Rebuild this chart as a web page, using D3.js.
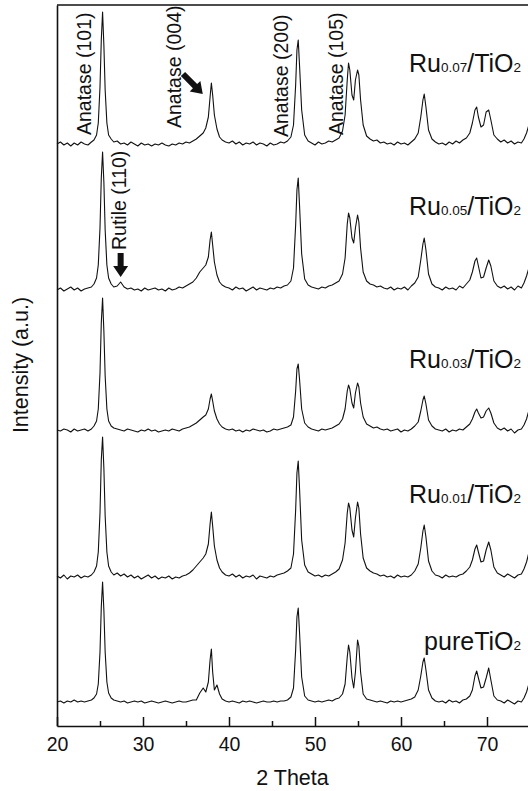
<!DOCTYPE html>
<html lang="en">
<head>
    <meta charset="UTF-8">
    <title>XRD patterns Ru/TiO2</title>
    <script src="https://d3js.org/d3.v7.min.js"></script>
    <style>
        body { margin: 0; background: #fff; }
        svg { display: block; font-family: "Liberation Sans", Arial, sans-serif; }
        .pattern { fill: none; stroke: #111; stroke-width: 1.1; stroke-linejoin: round; }
        .frame { stroke: #111; stroke-width: 1.6; }
    </style>
</head>
<body>
    <script>
        // 2 theta sample positions (denser around the reflections)
        var twoTheta = [
            20, 20.4, 20.8, 21.2, 21.6, 22.0, 22.4, 22.8, 23.2, 23.6,
            24.0, 24.3, 24.6, 24.8, 25.0, 25.15, 25.3, 25.45, 25.6, 25.8, 26.0, 26.3, 26.6,
            27.0, 27.4, 27.8, 28.2, 28.6, 29.0, 29.4, 29.8, 30.2, 30.6, 31.0, 31.4, 31.8, 32.2, 32.6, 33.0, 33.4, 33.8, 34.2, 34.6, 35.0, 35.4, 35.8,
            36.2, 36.6, 37.0, 37.3, 37.6, 37.8, 37.95, 38.1, 38.3, 38.6, 38.9, 39.2, 39.6,
            40.0, 40.4, 40.8, 41.2, 41.6, 42.0, 42.4, 42.8, 43.2, 43.6, 44.0, 44.4, 44.8, 45.2, 45.6, 46.0, 46.4, 46.8,
            47.2, 47.5, 47.75, 47.9, 48.05, 48.2, 48.45, 48.8, 49.2,
            49.6, 50.0, 50.4, 50.8, 51.2, 51.6, 52.0, 52.4, 52.8,
            53.2, 53.5, 53.75, 53.9, 54.05, 54.3, 54.5, 54.7, 54.95, 55.1, 55.3, 55.6, 56.0,
            56.4, 56.8, 57.2, 57.6, 58.0, 58.4, 58.8, 59.2, 59.6, 60.0, 60.4, 60.8, 61.2, 61.6,
            62.0, 62.3, 62.55, 62.7, 62.9, 63.2, 63.6,
            64.0, 64.4, 64.8, 65.2, 65.6, 66.0, 66.4, 66.8, 67.2, 67.6,
            68.0, 68.3, 68.6, 68.8, 69.0, 69.3, 69.6, 69.9, 70.2, 70.45, 70.8, 71.2,
            71.6, 72.0, 72.4, 72.8, 73.2, 73.6, 74.0, 74.3, 74.6, 75.0
        ];

        // intensities (a.u.) above each pattern's own baseline
        var ru007 = [
            1, 3, 0, 2, -1, 2, 0, 3, 1, 0,
            3, 5, 10, 22, 58, 105, 133, 100, 55, 22, 10, 6, 3,
            4, 1, 2, 0, 3, 1, -1, 2, 0, 1, -1, 1, 0, 2, 0, -1, 1, 0, 2, 1, 3, 2, 4,
            6, 9, 12, 17, 28, 48, 62, 50, 30, 16, 8, 5, 3,
            2, 4, 1, 3, 0, 2, 1, 3, 0, 2, 1, -1, 2, 0, 1, 3, 2, 4,
            8, 20, 60, 95, 105, 80, 35, 10, 4,
            2, 0, 3, 1, 2, 4, 3, 5, 7,
            14, 30, 65, 82, 75, 50, 45, 65, 75, 70, 45, 20, 9,
            6, 4, 5, 2, 3, 1, 2, 0, 3, 1, 2, 0, 3, 6,
            12, 28, 45, 51, 38, 15, 6,
            3, 1, 2, 0, 3, 1, 4, 2, 5, 7,
            12, 22, 35, 38, 28, 18, 20, 33, 35, 25, 10, 6,
            3, 5, 2, 4, 1, 3, 2, 6, 12, 24
        ];
        var ru005 = [
            0, 2, -1, 1, 3, 0, 2, -1, 1, 2,
            3, 6, 12, 25, 62, 112, 138, 108, 60, 25, 12, 6, 3,
            4, 8, 3, 1, 2, 0, 1, -1, 2, 0, 1, 2, 0, 1, -1, 2, 0, 1, 3, 2, 4, 6, 8,
            12, 18, 22, 25, 33, 50, 58, 45, 28, 15, 8, 5, 3,
            2, 0, 3, 1, 2, -1, 1, 3, 0, 2, 1, 0, 2, 1, 3, 2, 4, 5,
            9, 22, 65, 100, 112, 85, 36, 11, 5,
            3, 2, 1, 3, 2, 4, 5, 7, 9,
            16, 32, 66, 77, 72, 52, 47, 62, 75, 68, 42, 18, 9,
            6, 5, 3, 4, 2, 1, 3, 0, 2, 1, 3, 0, 4, 7,
            13, 30, 46, 52, 40, 16, 6,
            3, 2, 0, 3, 1, 2, 0, 4, 2, 6,
            10, 18, 29, 32, 24, 12, 13, 22, 30, 24, 9, 4,
            2, 4, 1, 3, 0, 4, 2, 7, 14, 26
        ];
        var ru003 = [
            1, 0, 2, 1, -1, 2, 0, 1, 2, 0,
            2, 5, 10, 22, 58, 108, 133, 100, 55, 22, 10, 5, 3,
            2, 1, 0, 2, 1, 0, -1, 1, 0, 2, 0, 1, -1, 0, 1, 0, 2, 1, 0, 2, 3, 4, 6,
            8, 11, 14, 16, 22, 32, 37, 30, 20, 12, 7, 4, 2,
            1, 2, 0, 1, -1, 1, 0, 2, 1, 0, 1, -1, 0, 2, 1, 2, 3, 4,
            6, 14, 40, 62, 67, 52, 22, 8, 4,
            2, 1, 0, 2, 1, 2, 3, 5, 7,
            12, 22, 40, 46, 42, 28, 23, 38, 48, 44, 28, 14, 7,
            5, 3, 4, 2, 1, 2, 0, 1, 2, -1, 1, 0, 2, 5,
            9, 20, 31, 35, 27, 11, 5,
            2, 1, 0, 2, -1, 1, 0, 2, 1, 4,
            7, 12, 19, 22, 18, 13, 14, 20, 23, 18, 8, 3,
            1, 3, 0, 2, -2, 1, 2, 6, 12, 25
        ];
        var ru001 = [
            2, 0, 3, -1, 2, 1, 3, 0, 2, 1,
            3, 6, 12, 26, 65, 118, 141, 110, 62, 26, 12, 6, 3,
            5, 2, 4, 1, 3, 0, 2, -1, 1, 3, 0, 2, -1, 1, 0, 2, -1, 1, 0, 2, 3, 5, 8,
            12, 16, 20, 24, 34, 54, 66, 52, 32, 18, 10, 6, 3,
            2, 4, 1, 3, 0, 2, 1, 3, -1, 2, 1, 0, 2, 1, 3, 4, 5, 7,
            10, 24, 68, 105, 117, 90, 38, 13, 6,
            4, 2, 3, 1, 3, 2, 4, 6, 9,
            18, 35, 65, 75, 70, 48, 41, 60, 76, 70, 44, 20, 10,
            7, 5, 4, 2, 3, 1, 2, 0, 3, 1, 2, 1, 3, 7,
            14, 30, 47, 53, 41, 17, 7,
            3, 2, 0, 3, 1, 2, 1, 3, 4, 7,
            11, 18, 29, 33, 26, 16, 17, 28, 36, 28, 11, 5,
            3, 1, 4, 2, 0, 3, 4, 9, 16, 30
        ];
        var pure = [
            0, 1, -1, 1, 0, 2, 0, 1, 0, 1,
            2, 4, 8, 18, 50, 95, 120, 92, 50, 20, 9, 4, 2,
            1, 0, 1, -1, 0, 1, 0, 1, -1, 0, 1, 0, -1, 0, 1, 0, -1, 0, 1, 0, 0, 1, 2,
            2, 9, 14, 10, 20, 42, 53, 30, 12, 17, 8, 3, 1,
            0, 1, 0, -1, 1, 0, 1, 0, -1, 0, 1, 0, 0, 1, 0, 1, 1, 2,
            5, 14, 52, 85, 94, 70, 25, 6, 2,
            1, 0, 1, 0, 1, 2, 1, 3, 4,
            8, 18, 45, 57, 50, 24, 14, 30, 62, 56, 30, 8, 3,
            2, 1, 0, 1, 0, -1, 1, 0, 1, 0, 1, 2, 3, 5,
            12, 26, 40, 44, 32, 12, 4,
            1, 0, 1, -1, 2, 0, 1, -1, 2, 3,
            6, 12, 26, 31, 24, 14, 15, 24, 34, 22, 6, 2,
            1, -1, 2, 0, -2, 1, 0, 4, 10, 22
        ];

        var patterns = [ru007, ru005, ru003, ru001, pure];
        var offsets = [581, 436, 295, 148, 24];           // stacking offset of each baseline
        var labelBase = [654, 511, 358, 223, 76];          // label baseline, same units
        var labelParts = [
            ["Ru", "0.07", "/TiO", "2"],
            ["Ru", "0.05", "/TiO", "2"],
            ["Ru", "0.03", "/TiO", "2"],
            ["Ru", "0.01", "/TiO", "2"],
            ["pureTiO", "2"]
        ];

        var majorTicks = [20, 30, 40, 50, 60, 70];
        var minorTicks = [25, 35, 45, 55, 65, 75];

        // reflection labels: [text, 2theta of text baseline, intensity at text start]
        var peakLabels = [
            ["Anatase (101)", 23.95, 591],
            ["Anatase (004)", 34.4, 598],
            ["Anatase (200)", 46.85, 589],
            ["Anatase (105)", 53.25, 591],
            ["Rutile (110)", 28.0, 476]
        ];
        // arrows: [tail 2theta, tail I, tip 2theta, tip I]
        var arrows = [
            [34.65, 652, 36.95, 632],
            [27.4, 473, 27.4, 449]
        ];

        var width = 528, height = 791;
        var svg = d3.select("body").append("svg")
            .attr("width", width)
            .attr("height", height);

        var x = d3.scaleLinear().domain([20, 80]).range([57, 573]);
        var y = d3.scaleLinear().domain([0, 721]).range([726, 5]);

        var line = d3.line()
            .x(function (d) { return x(d[0]); })
            .y(function (d) { return y(d[1]); });

        patterns.forEach(function (vals, i) {
            var n = Math.min(vals.length, twoTheta.length);
            var pts = d3.range(n).map(function (k) {
                return [twoTheta[k], vals[k] + offsets[i]];
            });
            svg.append("path")
                .attr("class", "pattern")
                .datum(pts)
                .attr("d", line);
        });

        // frame: top line + left axis (no ticks)
        svg.append("line").attr("class", "frame")
            .attr("x1", x(20)).attr("x2", x(80))
            .attr("y1", y(721)).attr("y2", y(721));

        svg.append("g")
            .attr("transform", "translate(" + x(20) + ",0)")
            .call(d3.axisLeft(y).tickValues([]).tickSizeOuter(0))
            .select(".domain").attr("class", "frame").attr("stroke", "#111");

        var xAxis = svg.append("g")
            .attr("transform", "translate(0," + y(0) + ")")
            .call(d3.axisBottom(x).tickValues(majorTicks).tickSizeInner(-9).tickSizeOuter(0).tickFormat(d3.format("d")));
        xAxis.select(".domain").attr("stroke", "#111").attr("stroke-width", 1.6);
        xAxis.selectAll(".tick line").attr("stroke", "#111").attr("stroke-width", 1.5);
        xAxis.selectAll("text")
            .attr("y", 25).attr("dy", 0)
            .attr("font-size", 19.5)
            .attr("font-family", "Liberation Sans, Arial, sans-serif")
            .attr("fill", "#111");

        var xMinor = svg.append("g")
            .attr("transform", "translate(0," + y(0) + ")")
            .call(d3.axisBottom(x).tickValues(minorTicks).tickSizeInner(-5).tickSizeOuter(0).tickFormat(""));
        xMinor.select(".domain").remove();
        xMinor.selectAll(".tick line").attr("stroke", "#111").attr("stroke-width", 1.5);

        // axis titles
        svg.append("text")
            .attr("x", (x(20) + width) / 2)
            .attr("y", 785)
            .attr("text-anchor", "middle")
            .attr("font-size", 21.5)
            .attr("fill", "#111")
            .text("2 Theta");

        svg.append("text")
            .attr("transform", "translate(28," + y(361) + ") rotate(-90)")
            .attr("text-anchor", "middle")
            .attr("font-size", 21.5)
            .attr("fill", "#111")
            .text("Intensity (a.u.)");

        // sample labels with subscripts
        labelParts.forEach(function (parts, i) {
            var t = svg.append("text")
                .attr("x", 521)
                .attr("y", y(labelBase[i]))
                .attr("text-anchor", "end")
                .attr("fill", "#111");
            parts.forEach(function (p, k) {
                var isSub = (k % 2 === 1);
                t.append("tspan")
                    .attr("font-size", isSub ? 13.5 : 25)
                    .text(p);
            });
        });

        // reflection labels
        peakLabels.forEach(function (d) {
            svg.append("text")
                .attr("transform", "translate(" + x(d[1]) + "," + y(d[2]) + ") rotate(-90)")
                .attr("text-anchor", "start")
                .attr("font-size", 19.5)
                .attr("fill", "#111")
                .text(d[0]);
        });

        // block arrows
        function arrowPath(x0, y0, x1, y1) {
            var dx = x1 - x0, dy = y1 - y0;
            var len = Math.sqrt(dx * dx + dy * dy);
            var ux = dx / len, uy = dy / len;
            var px = -uy, py = ux;
            var shaft = 3, head = 7.5, headLen = 11;
            var bx = x1 - ux * headLen, by = y1 - uy * headLen;
            var p = [
                [x0 + px * shaft, y0 + py * shaft],
                [bx + px * shaft, by + py * shaft],
                [bx + px * head, by + py * head],
                [x1, y1],
                [bx - px * head, by - py * head],
                [bx - px * shaft, by - py * shaft],
                [x0 - px * shaft, y0 - py * shaft]
            ];
            return "M" + p.join("L") + "Z";
        }
        arrows.forEach(function (a) {
            svg.append("path")
                .attr("d", arrowPath(x(a[0]), y(a[1]), x(a[2]), y(a[3])))
                .attr("fill", "#111");
        });
    </script>
</body>
</html>
